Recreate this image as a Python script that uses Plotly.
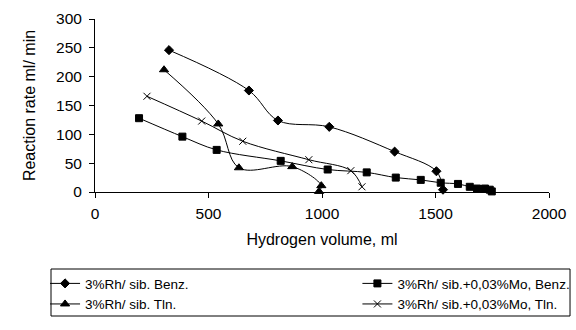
import plotly.graph_objects as go

# Hydrogen uptake data: volume absorbed (ml) vs. reaction rate (ml/min)
rh_benz_x = [326, 678, 806, 1032, 1320, 1504, 1533]
rh_benz_y = [246, 176, 124, 113, 70, 36, 4]

rh_tln_x = [304, 543, 634, 869, 997, 987]
rh_tln_y = [212, 118, 42, 44, 11, 1]

rhmo_benz_x = [194, 385, 536, 818, 1025, 1197, 1325, 1435, 1523, 1599, 1651, 1683, 1718, 1739, 1748]
rhmo_benz_y = [128, 96, 73, 54, 39, 34, 25, 21, 16, 14, 9, 6, 6, 4, 1]

rhmo_tln_x = [229, 470, 651, 942, 1127, 1176]
rhmo_tln_y = [166, 123, 88, 56, 37, 9]

# (label, x, y, marker symbol, marker size, legend column)
series = [
    ("3%Rh/ sib. Benz.", rh_benz_x, rh_benz_y, "diamond", 7, "legend"),
    ("3%Rh/ sib. Tln.", rh_tln_x, rh_tln_y, "triangle-up", 8, "legend"),
    ("3%Rh/ sib.+0,03%Mo, Benz.", rhmo_benz_x, rhmo_benz_y, "square", 7, "legend2"),
    ("3%Rh/ sib.+0,03%Mo, Tln.", rhmo_tln_x, rhmo_tln_y, "x-thin", 7, "legend2"),
]

FONT = "Liberation Sans, Arial, sans-serif"

fig = go.Figure()
for name, xs, ys, sym, size, leg in series:
    fig.add_trace(go.Scatter(
        x=xs, y=ys, name=name, mode="lines+markers", legend=leg,
        line=dict(color="black", width=1, shape="spline", smoothing=1),
        marker=dict(symbol=sym, size=size, color="black",
                    line=dict(color="black", width=1)),
        cliponaxis=False,
    ))

legend_common = dict(
    orientation="v",
    yanchor="top", xanchor="left",
    borderwidth=0, bgcolor="rgba(0,0,0,0)",
    font=dict(family=FONT, size=13.5, color="black"),
    tracegroupgap=0, itemwidth=30,
)

fig.update_layout(
    width=576, height=330,
    margin=dict(l=95, r=27, t=19, b=138, autoexpand=False),
    paper_bgcolor="white", plot_bgcolor="white",
    font=dict(family=FONT, size=13, color="black"),
    showlegend=True,
    legend=dict(x=-0.110, y=-0.44, **legend_common),
    legend2=dict(x=0.578, y=-0.44, **legend_common),
    # frame around both legend columns
    shapes=[dict(
        type="rect", xref="paper", yref="paper",
        x0=-0.0969, x1=1.0463, y0=-0.7168, y1=-0.4451,
        line=dict(color="black", width=1), fillcolor="rgba(0,0,0,0)",
    )],
    xaxis=dict(
        range=[0, 2000], dtick=500, tick0=0,
        showgrid=False, zeroline=False,
        showline=True, linecolor="black", linewidth=1,
        ticks="outside", ticklen=5, tickcolor="black",
        ticklabelstandoff=2,
        tickfont=dict(size=15.5),
        title=dict(text="Hydrogen volume, ml", font=dict(size=16), standoff=13),
    ),
    yaxis=dict(
        range=[0, 300], dtick=50, tick0=0,
        showgrid=False, zeroline=False,
        showline=True, linecolor="black", linewidth=1,
        ticks="outside", ticklen=5, tickcolor="black",
        ticklabelstandoff=4,
        tickfont=dict(size=15.5),
        title=dict(text="Reaction rate ml/ min", font=dict(size=16), standoff=16),
    ),
)

fig.write_html("out.html")
